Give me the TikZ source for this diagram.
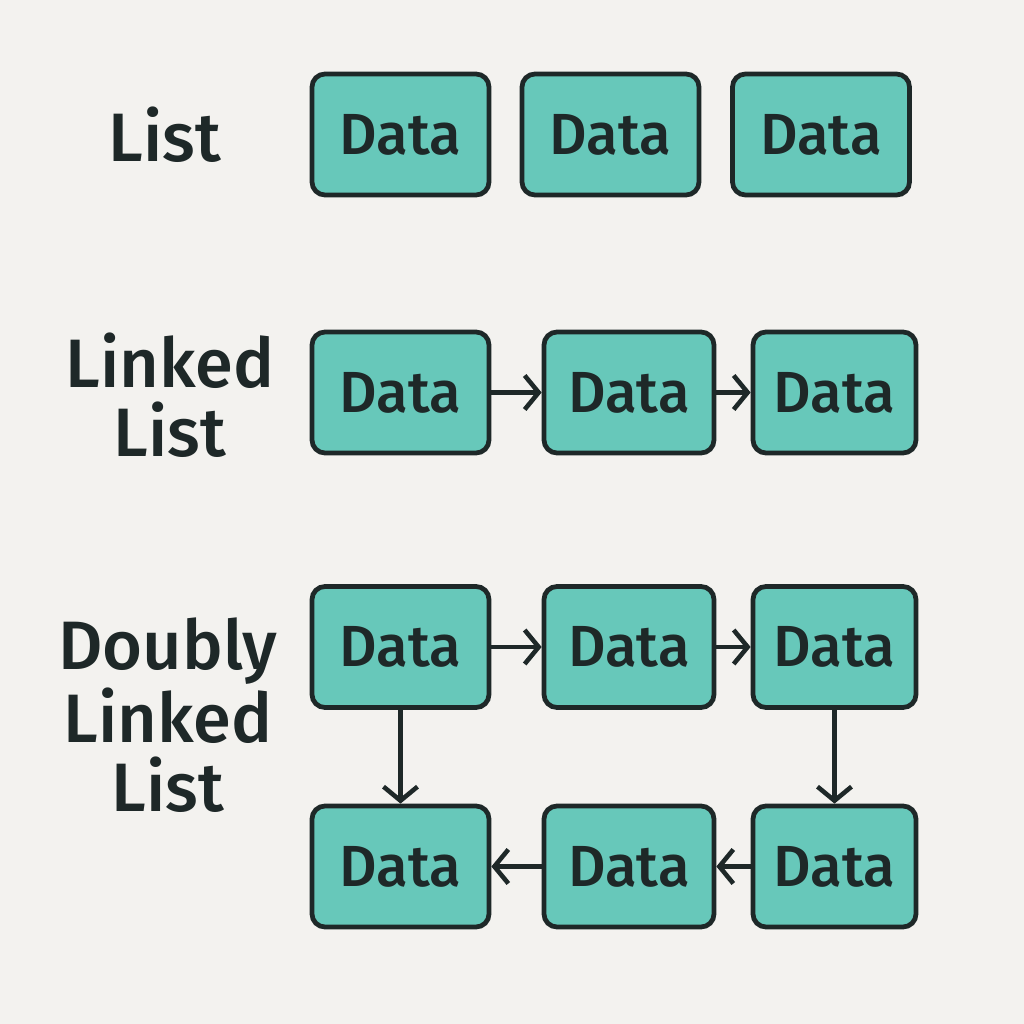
\documentclass[tikz,border=0pt]{standalone}
\usepackage{fontspec}
\setmainfont{Fira Sans}[UprightFont=* Medium]
\usetikzlibrary{arrows.meta}
\definecolor{paper}{HTML}{F3F2EF}
\definecolor{teal}{HTML}{67C8BA}
\definecolor{ink}{HTML}{1E2828}

\begin{document}
\begin{tikzpicture}[
  box/.style={draw=ink,fill=teal,line width=1.35pt,rounded corners=0.13cm,
    minimum height=1.21cm,inner sep=0pt,text=ink,font=\fontsize{16.5}{16.5}\selectfont},
  wa/.style={minimum width=1.77cm},
  wb/.style={minimum width=1.70cm},
  wc/.style={minimum width=1.63cm},
  title/.style={align=center,text=ink,font=\fontsize{19.5}{19.5}\selectfont},
  link/.style={draw=ink,line width=1.3pt,-{Straight Barb[length=0.14cm,width=0.34cm,line width=1.3pt]}}
]
\useasboundingbox[fill=paper] (0,0) rectangle (10.24,10.24);
% list
\node [title] (tlist) at (1.65,8.89) {List};
\node [box,wa] (l1) at (4.005,8.895) {Data};
\node [box,wa] (l2) at (6.105,8.895) {Data};
\node [box,wa] (l3) at (8.21,8.895) {Data};
% linked list
\node [title] (tlinked) at (1.70,6.29) {Linked\\List};
\node [box,wa] (k1) at (4.005,6.315) {Data};
\node [box,wb] (k2) at (6.29,6.315) {Data};
\node [box,wc] (k3) at (8.345,6.315) {Data};
\draw [link] (k1) -- (k2);
\draw [link] (k2) -- (k3);
% doubly linked list
\node [title] (tdoubly) at (1.68,3.09) {Doubly\\Linked\\List};
\node [box,wa] (d1) at (4.005,3.77) {Data};
\node [box,wb] (d2) at (6.29,3.77) {Data};
\node [box,wc] (d3) at (8.345,3.77) {Data};
\node [box,wa] (d4) at (4.005,1.575) {Data};
\node [box,wb] (d5) at (6.29,1.575) {Data};
\node [box,wc] (d6) at (8.345,1.575) {Data};
\draw [link] (d1) -- (d2);
\draw [link] (d2) -- (d3);
\draw [link] (d1) -- (d4);
\draw [link] (d3) -- (d6);
\draw [link] (d6) -- (d5);
\draw [link] (d5) -- (d4);
\end{tikzpicture}
\end{document}
